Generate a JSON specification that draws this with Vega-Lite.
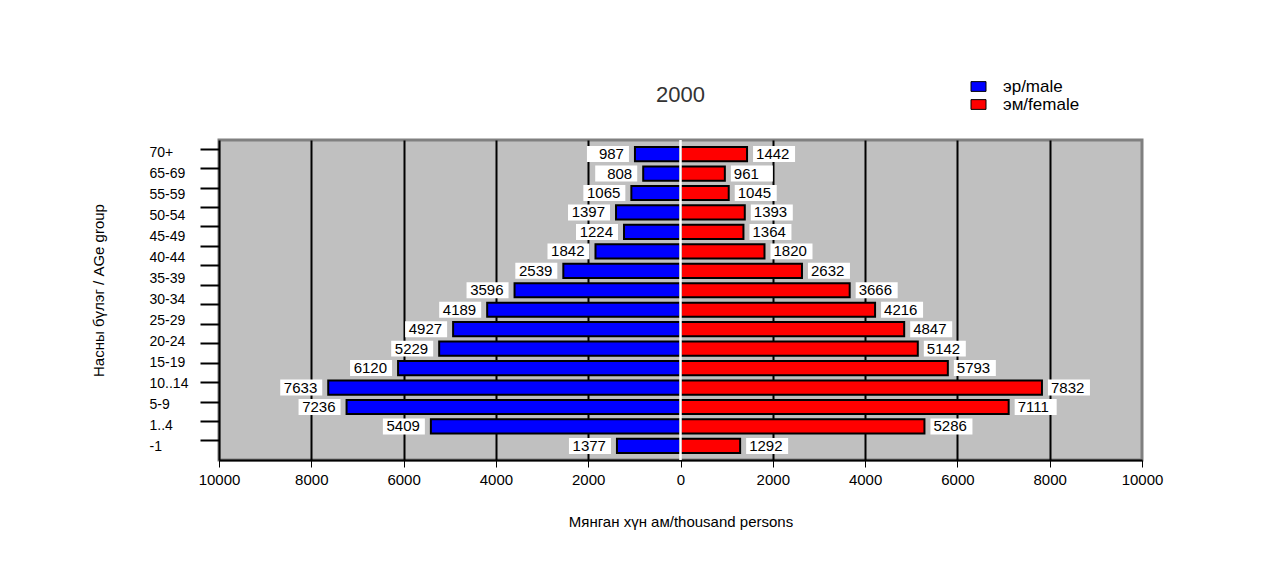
{
  "$schema": "https://vega.github.io/schema/vega-lite/v6.json",
  "width": 923,
  "height": 320,
  "autosize": {"type": "none"},
  "padding": {"left": 219, "top": 140, "right": 134, "bottom": 106},
  "background": "white",
  "title": {"text": "2000", "fontSize": 22, "fontWeight": "normal", "font": "Liberation Sans", "color": "#333333", "offset": 0, "dy": 29, "anchor": "middle", "frame": "group"},
  "config": {"view": {"fill": "#c0c0c0", "stroke": "#808080", "strokeWidth": 3}, "font": "Liberation Sans"},
  "datasets": {
    "pyramid": [
      {"age": "70+", "sex": "эр/male", "value": -987}, {"age": "70+", "sex": "эм/female", "value": 1442},
      {"age": "65-69", "sex": "эр/male", "value": -808}, {"age": "65-69", "sex": "эм/female", "value": 961},
      {"age": "60-64", "sex": "эр/male", "value": -1065}, {"age": "60-64", "sex": "эм/female", "value": 1045},
      {"age": "55-59", "sex": "эр/male", "value": -1397}, {"age": "55-59", "sex": "эм/female", "value": 1393},
      {"age": "50-54", "sex": "эр/male", "value": -1224}, {"age": "50-54", "sex": "эм/female", "value": 1364},
      {"age": "45-49", "sex": "эр/male", "value": -1842}, {"age": "45-49", "sex": "эм/female", "value": 1820},
      {"age": "40-44", "sex": "эр/male", "value": -2539}, {"age": "40-44", "sex": "эм/female", "value": 2632},
      {"age": "35-39", "sex": "эр/male", "value": -3596}, {"age": "35-39", "sex": "эм/female", "value": 3666},
      {"age": "30-34", "sex": "эр/male", "value": -4189}, {"age": "30-34", "sex": "эм/female", "value": 4216},
      {"age": "25-29", "sex": "эр/male", "value": -4927}, {"age": "25-29", "sex": "эм/female", "value": 4847},
      {"age": "20-24", "sex": "эр/male", "value": -5229}, {"age": "20-24", "sex": "эм/female", "value": 5142},
      {"age": "15-19", "sex": "эр/male", "value": -6120}, {"age": "15-19", "sex": "эм/female", "value": 5793},
      {"age": "10..14", "sex": "эр/male", "value": -7633}, {"age": "10..14", "sex": "эм/female", "value": 7832},
      {"age": "5-9", "sex": "эр/male", "value": -7236}, {"age": "5-9", "sex": "эм/female", "value": 7111},
      {"age": "1..4", "sex": "эр/male", "value": -5409}, {"age": "1..4", "sex": "эм/female", "value": 5286},
      {"age": "-1", "sex": "эр/male", "value": -1377}, {"age": "-1", "sex": "эм/female", "value": 1292}
    ],
    "labels": [
      {"label": "70+"}, {"label": "65-69"}, {"label": "55-59"}, {"label": "50-54"}, {"label": "45-49"},
      {"label": "40-44"}, {"label": "35-39"}, {"label": "30-34"}, {"label": "25-29"}, {"label": "20-24"},
      {"label": "15-19"}, {"label": "10..14"}, {"label": " 5-9"}, {"label": "1..4"}, {"label": "-1"}
    ],
    "zero": [{"value": 0}]
  },
  "layer": [
    {
      "data": {"name": "pyramid"},
      "encoding": {
        "y": {"field": "age", "type": "nominal", "sort": null,
          "scale": {"paddingInner": 0.27, "paddingOuter": 0.36},
          "axis": {"orient": "left", "labels": false, "ticks": true, "tickSize": 19, "tickWidth": 2, "tickColor": "black", "domain": true, "domainColor": "black", "domainWidth": 2, "title": null, "grid": false, "bandPosition": 0.15}},
        "x": {"field": "value", "type": "quantitative", "stack": null,
          "scale": {"domain": [-10000, 10000]},
          "axis": {
            "values": [-10000, -8000, -6000, -4000, -2000, 0, 2000, 4000, 6000, 8000, 10000],
            "labelExpr": "format(abs(datum.value), 'd')",
            "labelFontSize": 15, "labelFont": "Liberation Sans Narrow, Liberation Sans", "labelColor": "black", "labelPadding": 5, "labelFlush": false,
            "tickSize": 7, "tickColor": "black", "tickWidth": 1,
            "domainColor": "black", "domainWidth": 2,
            "grid": true, "gridWidth": 2,
            "gridColor": {"condition": {"test": "datum.value === 0 || abs(datum.value) === 10000", "value": "transparent"}, "value": "black"},
            "title": "Мянган хүн ам/thousand persons", "titleFontSize": 15, "titleFontWeight": "normal", "titleColor": "black", "titlePadding": 27
          }}
      },
      "layer": [
        {
          "mark": {"type": "bar", "stroke": "black", "strokeWidth": 2},
          "encoding": {
            "color": {"field": "sex", "type": "nominal",
              "scale": {"domain": ["эр/male", "эм/female"], "range": ["#0000ff", "#ff0000"]},
              "legend": {"orient": "none", "legendX": 751, "legendY": -62, "title": null, "symbolType": "M-1,-0.65H1V0.65H-1Z", "symbolSize": 225, "symbolStrokeColor": "black", "symbolStrokeWidth": 1, "labelFontSize": 17, "labelFont": "Liberation Sans", "labelColor": "black", "labelOffset": 16, "rowPadding": 0, "padding": 0}}
          }
        },
        {
          "transform": [{"filter": "datum.value < 0"}],
          "mark": {"type": "point", "shape": "M-2,-0.38H0V0.38H-2Z", "size": 1764, "filled": true, "color": "white", "opacity": 1, "strokeWidth": 0, "xOffset": -6}
        },
        {
          "transform": [{"filter": "datum.value > 0"}],
          "mark": {"type": "point", "shape": "M0,-0.38H2V0.38H0Z", "size": 1764, "filled": true, "color": "white", "opacity": 1, "strokeWidth": 0, "xOffset": 6}
        },
        {
          "transform": [{"filter": "datum.value < 0"}],
          "mark": {"type": "text", "align": "right", "baseline": "middle", "dx": -11, "fontSize": 15, "color": "black", "text": {"expr": "format(abs(datum.value), 'd')"}}
        },
        {
          "transform": [{"filter": "datum.value > 0"}],
          "mark": {"type": "text", "align": "left", "baseline": "middle", "dx": 9, "fontSize": 15, "color": "black", "text": {"expr": "format(abs(datum.value), 'd')"}}
        }
      ]
    },
    {
      "data": {"name": "zero"},
      "mark": {"type": "rule", "color": "white", "strokeWidth": 2.5},
      "encoding": {"x": {"field": "value", "type": "quantitative"}}
    },
    {
      "data": {"name": "labels"},
      "mark": {"type": "tick", "opacity": 0},
      "encoding": {
        "y": {"field": "label", "type": "nominal", "sort": null,
          "scale": {"paddingInner": 0, "paddingOuter": 0.12},
          "axis": {"orient": "left", "ticks": false, "domain": false, "grid": false, "labelAlign": "left", "labelPadding": 70, "labelFontSize": 14, "labelColor": "black", "labelFont": "Liberation Sans",
            "title": "Насны бүлэг / AGe group", "titleFontSize": 15, "titleFontWeight": "normal", "titleColor": "black", "titleX": -121, "titleY": 150, "titleAngle": -90, "titleAlign": "center", "titleBaseline": "middle"}}
      }
    }
  ],
  "resolve": {"scale": {"y": "independent"}, "axis": {"y": "independent"}}
}
